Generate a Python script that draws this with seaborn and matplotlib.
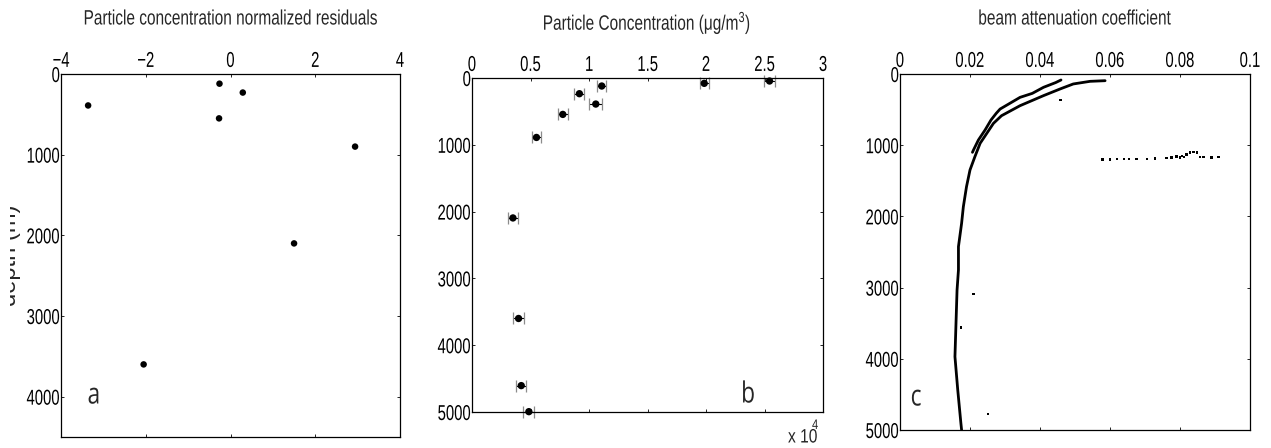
import matplotlib
matplotlib.use("Agg")
import matplotlib.pyplot as plt
import seaborn as sns
from matplotlib.patheffects import AbstractPathEffect
from matplotlib.transforms import Affine2D, Bbox

# ---- panel a: normalized residuals of the particle concentration fit ----
resid_depth = [120, 230, 390, 550, 900, 2100, 3600]
resid_value = [-0.26, 0.29, -3.36, -0.27, 2.94, 1.50, -2.05]

# ---- panel b: particle concentration (µg/m³) with uncertainty ----
conc_depth = [45, 80, 120, 235, 390, 545, 890, 2095, 3600, 4605, 4995]
conc_value = [25430, 19850, 11090, 9180, 10580, 7760, 5510, 3500, 3980, 4210, 4860]
conc_err = [450, 380, 400, 430, 550, 430, 400, 430, 500, 430, 480]

# ---- panel c: beam attenuation coefficient profiles ----
cast1_depth = [84, 120, 187, 272, 328, 400, 492, 552, 646, 787, 927, 1067, 1100]
cast1_value = [0.0460, 0.0445, 0.0410, 0.0378, 0.0343, 0.0318, 0.0286, 0.0275,
               0.0260, 0.0243, 0.0224, 0.0210, 0.0207]
cast2_depth = [94, 103, 140, 211, 304, 445, 586, 693, 833, 973, 1161, 1348, 1583,
               1864, 2097, 2425, 2753, 3034, 3501, 3970, 4438, 4906, 5000]
cast2_value = [0.0586, 0.0543, 0.0495, 0.0457, 0.0410, 0.0343, 0.0290, 0.0267,
               0.0248, 0.0229, 0.0214, 0.0200, 0.0190, 0.0181, 0.0176, 0.0167,
               0.0167, 0.0163, 0.0160, 0.0157, 0.0165, 0.0174, 0.0176]
spike_depth = [1200, 1198, 1196, 1194, 1192, 1190, 1190, 1188, 1180, 1170, 1160,
               1150, 1130, 1105, 1095, 1100, 1165, 1165, 1170, 1165, 1172, 1168,
               365, 3090, 3558, 4775]
spike_value = [0.0579, 0.0600, 0.0620, 0.0640, 0.0655, 0.0676, 0.0705, 0.0729,
               0.0762, 0.0776, 0.0790, 0.0805, 0.0819, 0.0829, 0.0838, 0.0848,
               0.0857, 0.0867, 0.0890, 0.0910, 0.0800, 0.0812,
               0.0459, 0.0210, 0.0174, 0.0252]

# tick labels
a_xticks = [-4, -2, 0, 2, 4]
a_yticks = [0, 1000, 2000, 3000, 4000]
b_xticks = [0, 5000, 10000, 15000, 20000, 25000, 30000]
b_xlabels = ["0", "0.5", "1", "1.5", "2", "2.5", "3"]
bc_yticks = [0, 1000, 2000, 3000, 4000, 5000]
c_xticks = [0, 0.02, 0.04, 0.06, 0.08, 0.1]
c_xlabels = ["0", "0.02", "0.04", "0.06", "0.08", "0.1"]

sns.set_style("white")
plt.rcParams["font.family"] = ["Liberation Sans", "DejaVu Sans"]
plt.rcParams["mathtext.fontset"] = "custom"
plt.rcParams["mathtext.rm"] = "Liberation Sans"
plt.rcParams["mathtext.it"] = "Liberation Sans"


class SqueezeX(AbstractPathEffect):
    """Draw text horizontally condensed about its left, centre or right edge."""

    def __init__(self, sx, anchor="center"):
        super().__init__()
        self.sx = sx
        self.anchor = anchor

    def draw_path(self, renderer, gc, tpath, affine, rgbFace=None):
        ext = tpath.get_extents(affine)
        if self.anchor == "left":
            x0 = affine.get_matrix()[0, 2]
        elif self.anchor == "right":
            x0 = ext.x1
        else:
            x0 = 0.5 * (ext.x0 + ext.x1)
        t = affine + Affine2D().translate(-x0, 0).scale(self.sx, 1).translate(x0, 0)
        renderer.draw_path(gc, tpath, t, rgbFace)


W, H = 1271, 448
fig = plt.figure(figsize=(W / 100, H / 100), dpi=100)
fig.patch.set_facecolor("white")


def px_axes(l, t, r, b):
    return fig.add_axes([l / W, 1 - b / H, (r - l) / W, (b - t) / H])


def style(ax):
    ax.xaxis.tick_top()
    ax.tick_params(which="both", direction="in", top=True, bottom=True,
                   left=True, right=True, labeltop=True, labelbottom=False,
                   length=2.2, width=0.6, labelsize=15.5, colors="black")
    ax.tick_params(axis="x", pad=1.5)
    ax.tick_params(axis="y", pad=0.5)
    for s in ax.spines.values():
        s.set_visible(True)
        s.set_linewidth(0.9)
        s.set_color("black")
    ax.set_xlabel("")
    ax.set_ylabel("")


ax_a = px_axes(61, 74, 400, 437)
ax_b = px_axes(472, 78, 823, 412)
ax_c = px_axes(900, 74, 1250, 430)

# panel a
sns.scatterplot(x=resid_value, y=resid_depth, ax=ax_a, color="black",
                s=22, edgecolor="none", legend=False)
ax_a.set_xlim(-4, 4)
ax_a.set_ylim(4500, 0)
ax_a.set_xticks(a_xticks)
ax_a.set_yticks(a_yticks)
style(ax_a)

# panel b
eb = ax_b.errorbar(conc_value, conc_depth, xerr=conc_err, fmt="none",
                   ecolor="black", elinewidth=0.8, capsize=4.5, capthick=0.9,
                   clip_on=False)
for cap in eb[1]:
    cap.set_markeredgecolor("#8c8c8c")
    cap.set_clip_on(False)
sns.scatterplot(x=conc_value, y=conc_depth, ax=ax_b, color="black",
                s=28, edgecolor="none", legend=False, clip_on=False, zorder=3)
ax_b.set_xlim(0, 30000)
ax_b.set_ylim(5000, 0)
ax_b.set_xticks(b_xticks)
ax_b.set_xticklabels(b_xlabels)
ax_b.set_yticks(bc_yticks)
style(ax_b)

# panel c
sns.lineplot(x=cast1_value, y=cast1_depth, ax=ax_c, orient="y", sort=False,
             estimator=None, color="black", lw=2.0)
sns.lineplot(x=cast2_value, y=cast2_depth, ax=ax_c, orient="y", sort=False,
             estimator=None, color="black", lw=2.0)
sns.scatterplot(x=spike_value, y=spike_depth, ax=ax_c, color="black",
                s=3, marker="s", edgecolor="none", legend=False)
ax_c.set_xlim(0, 0.1)
ax_c.set_ylim(5000, 0)
ax_c.set_xticks(c_xticks)
ax_c.set_xticklabels(c_xlabels)
ax_c.set_yticks(bc_yticks)
style(ax_c)

# titles
title_fx = [SqueezeX(0.74, "center")]
fig.text(231 / W, 1 - 19 / H, "Particle concentration normalized residuals",
         ha="center", va="center", fontsize=15, path_effects=title_fx)
fig.text(647 / W, 1 - 23 / H, "Particle Concentration (μg/m$^3$)",
         ha="center", va="center", fontsize=15, path_effects=title_fx)
fig.text(1075 / W, 1 - 19 / H, "beam attenuation coefficient",
         ha="center", va="center", fontsize=15, path_effects=title_fx)

# panel letters
letter_font = ["Open Sans", "DejaVu Sans"]
for x, y, s in [(94, 396, "a"), (748, 395, "b"), (916, 398, "c")]:
    fig.text(x / W, 1 - y / H, s, ha="center", va="center", fontsize=21,
             family=letter_font, path_effects=[SqueezeX(0.78, "center")])

# exponent of the concentration axis
fig.text(788 / W, 1 - 438 / H, "x 10", ha="left", va="center", fontsize=14,
         path_effects=[SqueezeX(0.8, "left")])
fig.text(812 / W, 1 - 425 / H, "4", ha="left", va="center", fontsize=10,
         path_effects=[SqueezeX(0.8, "left")])

# depth label, cut off at the left margin
ylab = fig.text(21 / W, 1 - 255 / H, "depth (m)", rotation=90, ha="right",
                va="center", fontsize=17)
ylab.set_clip_box(Bbox.from_extents(10, 0, W, H))
ylab.set_clip_on(True)

# condensed tick labels
fig.canvas.draw()
for ax in (ax_a, ax_b, ax_c):
    for tk in ax.xaxis.get_major_ticks():
        tk.label1.set_path_effects([SqueezeX(0.69, "center")])
        tk.label2.set_path_effects([SqueezeX(0.69, "center")])
    for tk in ax.yaxis.get_major_ticks():
        tk.label1.set_path_effects([SqueezeX(0.69, "right")])
        tk.label2.set_path_effects([SqueezeX(0.69, "left")])

fig.savefig("out.png", dpi=100, facecolor="white")
